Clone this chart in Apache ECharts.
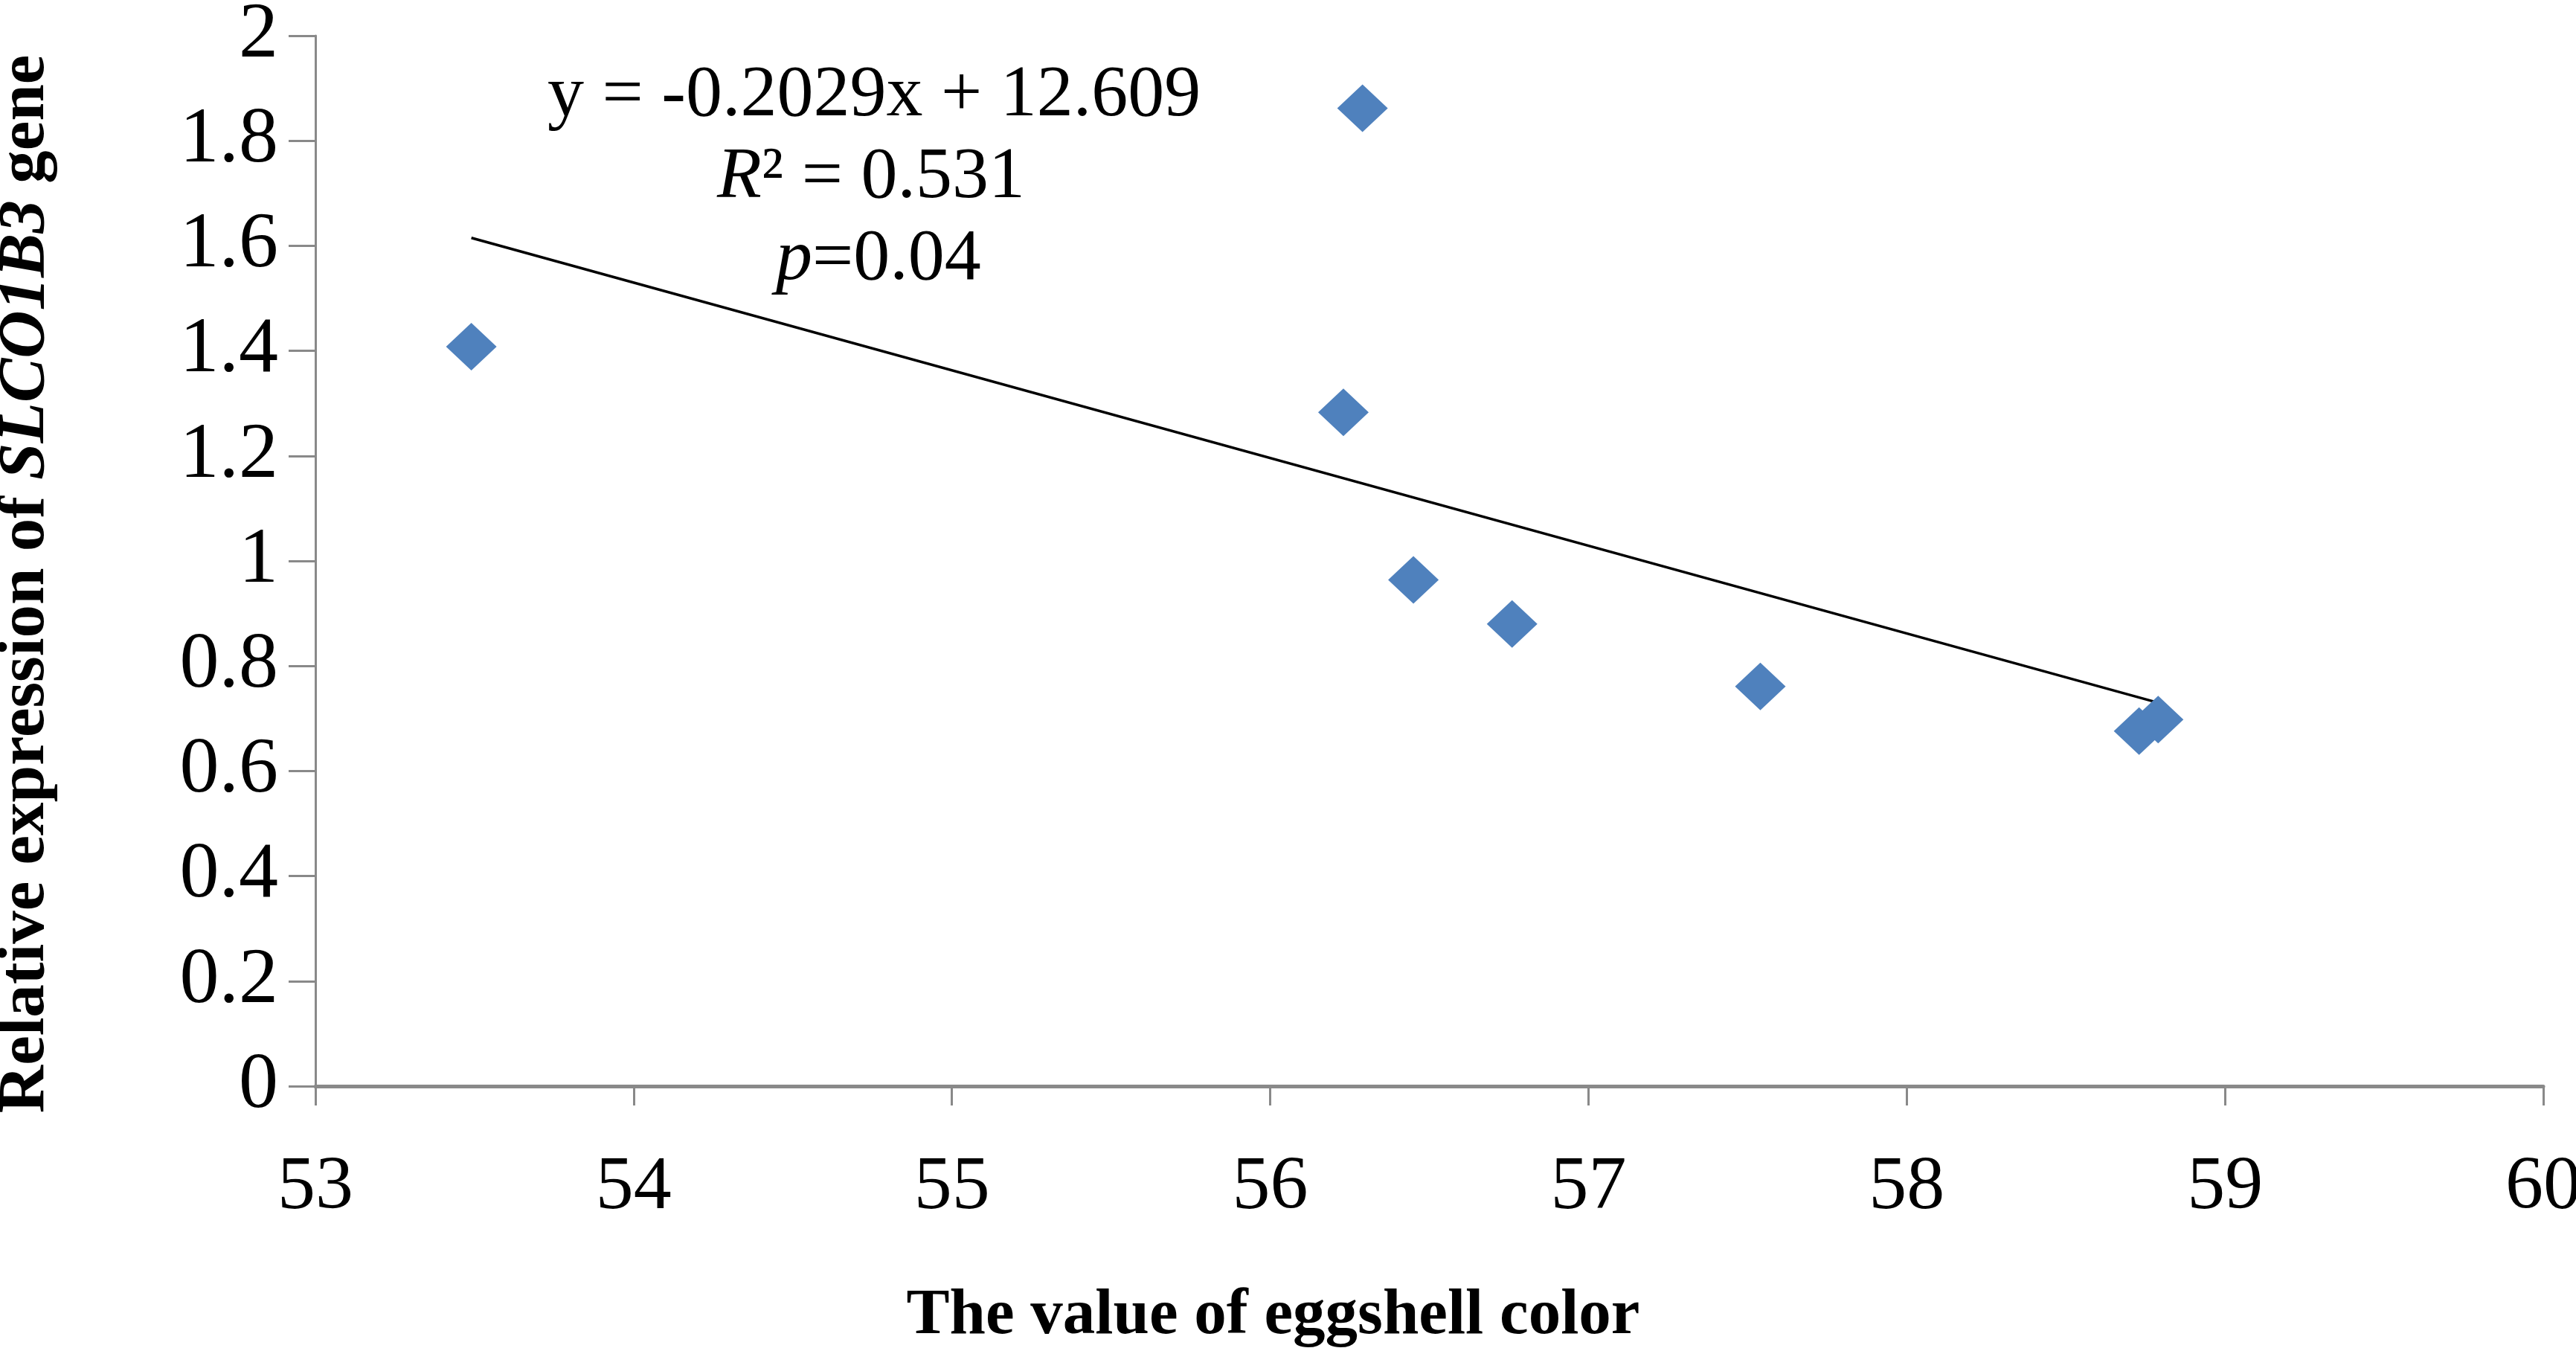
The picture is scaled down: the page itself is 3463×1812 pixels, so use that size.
<!DOCTYPE html>
<html>
<head>
<meta charset="utf-8">
<script src="https://cdn.jsdelivr.net/npm/echarts@6/dist/echarts.min.js"></script>
<style>
html,body{margin:0;padding:0;background:#fff;}
#c{width:3463px;height:1812px;}
</style>
</head>
<body>
<div id="c"></div>
<script>
const eggshellColor = [53.49, 56.29, 56.23, 56.45, 56.76, 57.54, 58.73, 58.79];
const relExpression = [1.408, 1.862, 1.283, 0.964, 0.880, 0.761, 0.676, 0.698];
const trendX = [53.49, 58.79];
const trendY = [1.615, 0.730];
const xTicks = [53, 54, 55, 56, 57, 58, 59, 60];
const yTicks = [0, 0.2, 0.4, 0.6, 0.8, 1, 1.2, 1.4, 1.6, 1.8, 2];

const FONT = '"Liberation Serif", "Times New Roman", serif';
const chart = echarts.init(document.getElementById('c'));
const grid = {left: 424, right: 44, top: 48, bottom: 352, containLabel: false, outerBoundsMode: 'none'};

chart.setOption({
  backgroundColor: '#ffffff',
  animation: false,
  grid: grid,
  xAxis: {
    type: 'value', min: xTicks[0], max: xTicks[xTicks.length - 1], interval: 1,
    axisLine: {show: true, onZero: false, lineStyle: {color: '#898989', width: 5}},
    axisTick: {show: true, length: 26, lineStyle: {color: '#898989', width: 3}},
    splitLine: {show: false},
    axisLabel: {fontFamily: FONT, fontSize: 102, color: '#000', margin: 86},
    name: 'The value of eggshell color',
    nameLocation: 'middle',
    nameGap: 266,
    nameTextStyle: {fontFamily: FONT, fontSize: 87, fontWeight: 'bold', color: '#000', padding: [0, 420, 0, 0]}
  },
  yAxis: {
    type: 'value', min: yTicks[0], max: yTicks[yTicks.length - 1], interval: 0.2,
    axisLine: {show: true, lineStyle: {color: '#898989', width: 3}},
    axisTick: {show: true, length: 36, lineStyle: {color: '#898989', width: 3}},
    splitLine: {show: false},
    axisLabel: {fontFamily: FONT, fontSize: 106, color: '#000', margin: 50,
      formatter: function (v) { return String(Math.round(v * 10) / 10); }},
    name: '{b|Relative expression of }{bi|SLCO1B3}{b| gene}',
    nameLocation: 'middle',
    nameGap: 344,
    nameTextStyle: {
      padding: [0, 62, 0, 0],
      rich: {
        b: {fontFamily: FONT, fontSize: 89, fontWeight: 'bold', color: '#000'},
        bi: {fontFamily: FONT, fontSize: 89, fontWeight: 'bold', fontStyle: 'italic', color: '#000'}
      }
    }
  },
  series: [
    {
      type: 'line',
      data: trendX.map((x, i) => [x, trendY[i]]),
      symbol: 'none',
      lineStyle: {color: '#000', width: 3.5},
      z: 3
    },
    {
      type: 'scatter',
      data: eggshellColor.map((x, i) => [x, relExpression[i]]),
      symbol: 'diamond',
      symbolSize: [68, 64],
      itemStyle: {color: '#4f81bd', opacity: 1},
      z: 4
    }
  ],
  graphic: [
    {
      type: 'text', left: 736, top: 80,
      style: {text: 'y = -0.2029x + 12.609', font: '98px ' + FONT, fill: '#000'}
    },
    {
      type: 'text', left: 964, top: 190,
      style: {
        text: '{i|R}{n|² = 0.531}',
        rich: {
          i: {font: 'italic 98px ' + FONT, fill: '#000'},
          n: {font: '98px ' + FONT, fill: '#000'}
        }
      }
    },
    {
      type: 'text', left: 1043, top: 300,
      style: {
        text: '{i|p}{n|=0.04}',
        rich: {
          i: {font: 'italic 98px ' + FONT, fill: '#000'},
          n: {font: '98px ' + FONT, fill: '#000'}
        }
      }
    }
  ]
});
</script>
</body>
</html>
